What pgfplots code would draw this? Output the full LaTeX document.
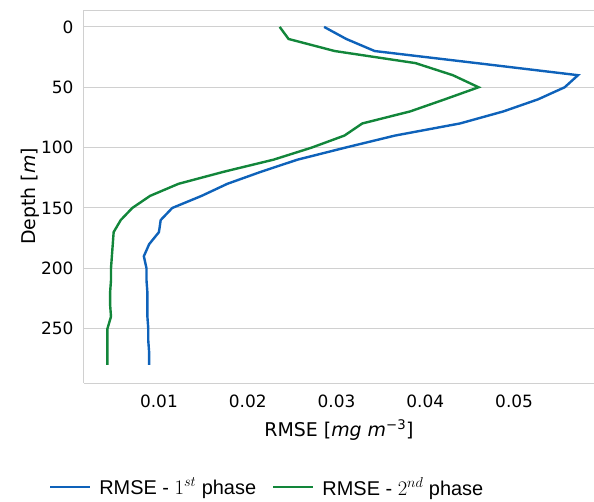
\documentclass[border=0pt]{standalone}
\usepackage{fontspec}
\setmainfont{DejaVu Sans}
\newfontfamily\legfont{Liberation Sans}
\usepackage{pgfplots}
\pgfplotsset{compat=1.18}
\definecolor{cblue}{RGB}{14,98,186}
\definecolor{cgreen}{RGB}{18,134,58}
\definecolor{cgrid}{RGB}{208,208,208}
\begin{document}
\begin{tikzpicture}
\begin{axis}[
  at={(0,0)}, anchor=south west,
  scale only axis, width=510bp, height=373bp,
  xmin=0.00156, xmax=0.059,
  ymin=-14, ymax=295, y dir=reverse,
  axis x line*=box, axis y line*=left,
  axis line style={draw=cgrid, line width=1bp},
  major tick length=0pt,
  scaled x ticks=false,
  xtick={0.01,0.02,0.03,0.04,0.05},
  xticklabels={0.01,0.02,0.03,0.04,0.05},
  ytick={0,50,100,150,200,250},
  ymajorgrids, grid style={cgrid, line width=1bp},
  /pgf/number format/assume math mode=true,
  tick label style={font=\fontsize{17}{20}\selectfont},
  xticklabel style={yshift=-8bp},
  yticklabel style={xshift=-7bp},
  xlabel={RMSE [\textit{mg m}\textsuperscript{−3}]},
  ylabel={Depth [\textit{m}]},
  label style={font=\fontsize{19}{22}\selectfont},
  xlabel style={at={(axis description cs:0.5,-0.126)}, anchor=center},
  ylabel style={at={(axis description cs:-0.106,0.5)}, anchor=center},
  legend columns=2,
  legend style={at={(axis description cs:0.359,-0.279)}, anchor=center, draw=none, fill=none,
    font=\legfont\fontsize{20}{24}\selectfont, column sep=6bp,
    /tikz/every even column/.append style={column sep=14bp}},
  legend image code/.code={\draw[#1] (0bp,0bp) -- (40bp,0bp);},
  every axis plot/.append style={line width=2.4bp},
]
\addplot[cblue] table[x index=1, y index=0] {
0 0.0286
10 0.0311
20 0.0343
30 0.0458
40 0.0572
50 0.0557
60 0.0527
70 0.0488
80 0.0439
90 0.0366
100 0.0310
110 0.0256
120 0.0215
130 0.0177
140 0.0148
150 0.0115
160 0.0102
170 0.0100
180 0.0089
190 0.0083
200 0.0086
210 0.0086
220 0.0087
230 0.0087
240 0.0087
250 0.0088
260 0.0088
270 0.0089
280 0.0089
} ;
\addlegendentry{RMSE - $1^{st}$ phase}
\addplot[cgreen] table[x index=1, y index=0] {
0 0.0236
10 0.0246
20 0.0298
30 0.0389
40 0.0431
50 0.0460
60 0.0422
70 0.0383
80 0.0329
90 0.0309
100 0.0272
110 0.0229
120 0.0173
130 0.0122
140 0.0090
150 0.0070
160 0.0057
170 0.0049
180 0.0048
190 0.0047
200 0.0046
210 0.0046
220 0.0045
230 0.0045
240 0.0046
250 0.0042
260 0.0042
270 0.0042
280 0.0042
};
\addlegendentry{RMSE - $2^{nd}$ phase}
\end{axis}
\pgfresetboundingbox
\path[use as bounding box] (-84bp,-119bp) rectangle (510bp,383bp);
\end{tikzpicture}
\end{document}
